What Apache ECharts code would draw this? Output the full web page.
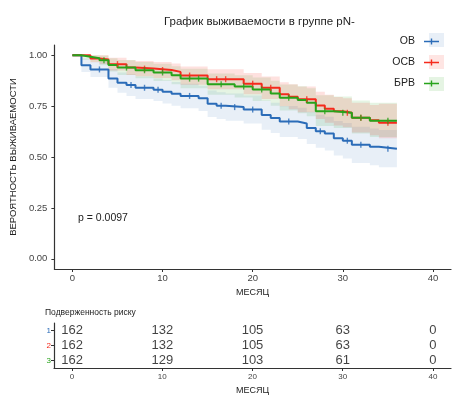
<!DOCTYPE html>
<html lang="ru">
<head>
<meta charset="utf-8" />
<style>
  html, body { margin: 0; width: 100%; height: 100%; background: #fff; }
  #container { width: 467px; height: 397px; }
</style>
<script src="https://cdn.jsdelivr.net/npm/echarts@6/dist/echarts.min.js"></script>
</head>
<body>
<div id="container"></div>
<script>
var groupNames = ['ОВ', 'ОСВ', 'БРВ'];
var colors = ['#2b6cb8', '#f52a1c', '#27a31a'];

// ОВ
var timeOV = [0, 1, 2, 4, 5, 6, 7, 9, 10, 11, 12, 14, 15, 16, 17, 19, 21, 22, 23, 25, 26, 27, 28, 29, 30, 31, 33, 34, 36];
var survOV = [1.0, 0.95, 0.93, 0.886, 0.865, 0.853, 0.84, 0.83, 0.82, 0.81, 0.80, 0.788, 0.762, 0.752, 0.745, 0.733, 0.706, 0.692, 0.674, 0.665, 0.643, 0.627, 0.615, 0.592, 0.58, 0.56, 0.55, 0.541, 0.541];
var lowOV = [1.0, 0.917, 0.893, 0.84, 0.815, 0.80, 0.785, 0.775, 0.763, 0.752, 0.74, 0.726, 0.697, 0.686, 0.678, 0.664, 0.634, 0.618, 0.598, 0.588, 0.564, 0.546, 0.532, 0.507, 0.493, 0.471, 0.46, 0.45, 0.45];
var upOV = [1.0, 0.984, 0.967, 0.932, 0.915, 0.906, 0.895, 0.885, 0.877, 0.868, 0.86, 0.85, 0.827, 0.818, 0.812, 0.802, 0.778, 0.766, 0.75, 0.742, 0.722, 0.708, 0.698, 0.677, 0.667, 0.649, 0.64, 0.632, 0.632];
var censOV = [3, 6.5, 8, 9.5, 13, 16.5, 18, 20, 24, 27.5, 30.5, 32, 35];

// ОСВ
var timeOSV = [0, 2, 3, 4, 6, 7, 9, 11, 12, 15, 19, 21, 23, 24, 25, 27, 28, 29, 30, 31, 33, 34, 36];
var survOSV = [1.0, 0.984, 0.979, 0.956, 0.939, 0.934, 0.927, 0.918, 0.90, 0.882, 0.86, 0.84, 0.808, 0.796, 0.783, 0.753, 0.737, 0.725, 0.717, 0.693, 0.681, 0.668, 0.668];
var lowOSV = [1.0, 0.965, 0.957, 0.925, 0.903, 0.897, 0.888, 0.877, 0.855, 0.833, 0.808, 0.785, 0.749, 0.735, 0.72, 0.686, 0.668, 0.655, 0.646, 0.62, 0.607, 0.592, 0.592];
var upOSV = [1.0, 1.0, 1.0, 0.987, 0.975, 0.971, 0.966, 0.959, 0.945, 0.931, 0.912, 0.895, 0.867, 0.857, 0.846, 0.82, 0.806, 0.795, 0.788, 0.766, 0.755, 0.762, 0.762];
var censOSV = [5, 8, 10, 13, 16, 17, 20, 22, 26, 30.5, 32, 35];

// БРВ
var timeBRV = [0, 1, 2, 3, 4, 5, 7, 9, 11, 12, 15, 18, 20, 22, 23, 25, 26, 27, 29, 31, 33, 36];
var survBRV = [1.0, 0.992, 0.985, 0.975, 0.952, 0.939, 0.926, 0.915, 0.901, 0.885, 0.857, 0.846, 0.832, 0.812, 0.791, 0.78, 0.767, 0.725, 0.717, 0.693, 0.678, 0.678];
var lowBRV = [1.0, 0.978, 0.967, 0.951, 0.92, 0.903, 0.887, 0.873, 0.857, 0.838, 0.806, 0.792, 0.775, 0.752, 0.728, 0.715, 0.7, 0.652, 0.642, 0.615, 0.598, 0.598];
var upBRV = [1.0, 1.0, 1.0, 0.999, 0.985, 0.976, 0.966, 0.958, 0.946, 0.933, 0.91, 0.902, 0.891, 0.874, 0.856, 0.848, 0.838, 0.803, 0.797, 0.777, 0.766, 0.766];
var censBRV = [3.5, 6, 8, 10, 13, 14, 16.5, 19, 21, 24, 28, 30, 32, 35];

// таблица риска
var riskTimes = [0, 10, 20, 30, 40];
var riskOV = [162, 132, 105, 63, 0];
var riskOSV = [162, 132, 105, 63, 0];
var riskBRV = [162, 129, 103, 61, 0];

var monthTicks = [0, 10, 20, 30, 40];
var survTicks = [0, 0.25, 0.5, 0.75, 1];

var font = 'Liberation Sans, Arial, sans-serif';
var groups = [
  { t: timeOV, s: survOV, lo: lowOV, up: upOV, c: censOV, risk: riskOV, band: 0.11 },
  { t: timeOSV, s: survOSV, lo: lowOSV, up: upOSV, c: censOSV, risk: riskOSV, band: 0.14 },
  { t: timeBRV, s: survBRV, lo: lowBRV, up: upBRV, c: censBRV, risk: riskBRV, band: 0.12 }
];

function pairs(t, v) {
  return t.map(function (x, i) { return [x, v[i]]; });
}
function stepAt(t, s, x) {
  var v = s[0];
  for (var i = 0; i < t.length; i++) { if (t[i] <= x) v = s[i]; }
  return v;
}

// доверительная полоса — ступенчатый многоугольник
function bandSeries(k) {
  var g = groups[k];
  return {
    type: 'custom', silent: true, z: 1,
    data: [[g.t[0], g.s[0]]],
    renderItem: function (params, api) {
      var pts = [];
      for (var i = 0; i < g.t.length; i++) {
        if (i > 0) pts.push(api.coord([g.t[i], g.up[i - 1]]));
        pts.push(api.coord([g.t[i], g.up[i]]));
      }
      for (var j = g.t.length - 1; j >= 0; j--) {
        pts.push(api.coord([g.t[j], g.lo[j]]));
        if (j > 0) pts.push(api.coord([g.t[j], g.lo[j - 1]]));
      }
      return { type: 'polygon', shape: { points: pts }, style: { fill: colors[k], opacity: g.band } };
    }
  };
}

var series = [bandSeries(2), bandSeries(0), bandSeries(1)];
groups.forEach(function (g, k) {
  series.push({
    type: 'line', name: groupNames[k], step: 'end', symbol: 'none', z: 3,
    color: colors[k], lineStyle: { width: 2, color: colors[k] },
    data: pairs(g.t, g.s)
  });
  series.push({
    type: 'scatter', name: groupNames[k] + ' (цензура)', symbol: 'rect', symbolSize: [1.4, 6],
    z: 4, silent: true, itemStyle: { color: colors[k] },
    data: g.c.map(function (x) { return [x, stepAt(g.t, g.s, x)]; })
  });
  series.push({
    type: 'scatter', xAxisIndex: 1, yAxisIndex: 1, symbolSize: 1, silent: true,
    itemStyle: { color: 'transparent' },
    label: {
      show: true, position: 'inside', fontSize: 13, color: '#111', fontFamily: font,
      formatter: function (p) { return p.value[2]; }
    },
    data: riskTimes.map(function (x, i) { return [x, k, g.risk[i]]; })
  });
});

var axisCol = '#333';
var chart = echarts.init(document.getElementById('container'));
chart.setOption({
  animation: false,
  backgroundColor: '#fff',
  textStyle: { fontFamily: font },
  title: [
    { text: 'График выживаемости в группе pN-', left: 164, top: 16, padding: 0,
      textStyle: { fontSize: 11.5, fontWeight: 'normal', color: '#222', fontFamily: font } },
    { text: 'Подверженность риску', left: 45, top: 308, padding: 0,
      textStyle: { fontSize: 8.5, fontWeight: 'normal', color: '#222', fontFamily: font } }
  ],
  legend: {
    data: groupNames, orient: 'vertical', align: 'right', right: 23, top: 31,
    itemWidth: 15, itemHeight: 6, itemGap: 10,
    icon: 'path://M0,2.3L15,2.3L15,3.7L0,3.7Z M6.8,0L8.2,0L8.2,6L6.8,6Z',
    textStyle: { fontSize: 10.5, color: '#222', fontFamily: font, padding: [0, 4, 0, 0] },
    selectedMode: false
  },
  graphic: [
    { type: 'rect', shape: { x: 429, y: 33, width: 15, height: 14 }, style: { fill: 'rgba(43,108,184,0.11)' }, z: 0 },
    { type: 'rect', shape: { x: 429, y: 55, width: 15, height: 14 }, style: { fill: 'rgba(245,42,28,0.12)' }, z: 0 },
    { type: 'rect', shape: { x: 429, y: 77, width: 15, height: 14 }, style: { fill: 'rgba(39,163,26,0.12)' }, z: 0 },
    { type: 'text', x: 78, y: 213, style: { text: 'p = 0.0097', fontSize: 10.5, fill: '#222', fontFamily: font } }
  ],
  grid: [
    { left: 54, right: 16, top: 45, height: 224 },
    { left: 54, right: 16, top: 323, height: 45 }
  ],
  xAxis: [
    {
      type: 'value', gridIndex: 0, min: -2, max: 42,
      name: 'МЕСЯЦ', nameLocation: 'middle', nameGap: 19,
      nameTextStyle: { fontSize: 9, color: '#222' },
      splitLine: { show: false },
      axisLine: { show: true, onZero: false, lineStyle: { color: axisCol, width: 1.2 } },
      axisTick: { show: true, length: 3, customValues: monthTicks, lineStyle: { color: axisCol } },
      axisLabel: { customValues: monthTicks, fontSize: 9.5, color: '#444', margin: 4 }
    },
    {
      type: 'value', gridIndex: 1, min: -2, max: 42,
      name: 'МЕСЯЦ', nameLocation: 'middle', nameGap: 18,
      nameTextStyle: { fontSize: 9, color: '#222' },
      splitLine: { show: false },
      axisLine: { show: true, onZero: false, lineStyle: { color: axisCol, width: 1.2 } },
      axisTick: { show: true, length: 3, customValues: monthTicks, lineStyle: { color: axisCol } },
      axisLabel: { customValues: monthTicks, fontSize: 8, color: '#444', margin: 5 }
    }
  ],
  yAxis: [
    {
      type: 'value', gridIndex: 0, min: -0.05, max: 1.05,
      name: 'ВЕРОЯТНОСТЬ ВЫЖИВАЕМОСТИ', nameLocation: 'middle', nameGap: 32,
      nameTextStyle: { fontSize: 9.5, color: '#222' },
      splitLine: { show: false },
      axisLine: { show: true, onZero: false, lineStyle: { color: axisCol, width: 1.2 } },
      axisTick: { show: true, length: 3, customValues: survTicks, lineStyle: { color: axisCol } },
      axisLabel: {
        customValues: survTicks, fontSize: 9.5, color: '#444', margin: 7,
        formatter: function (v) { return v.toFixed(2); }
      }
    },
    {
      type: 'category', gridIndex: 1, data: ['1', '2', '3'], inverse: true,
      axisLine: { show: true, onZero: false, lineStyle: { color: axisCol, width: 1.2 } },
      axisTick: { show: true, length: 3, alignWithLabel: true, lineStyle: { color: axisCol } },
      axisLabel: { fontSize: 8, margin: 3, color: function (v, i) { return colors[i]; } }
    }
  ],
  series: series
});
</script>
</body>
</html>
